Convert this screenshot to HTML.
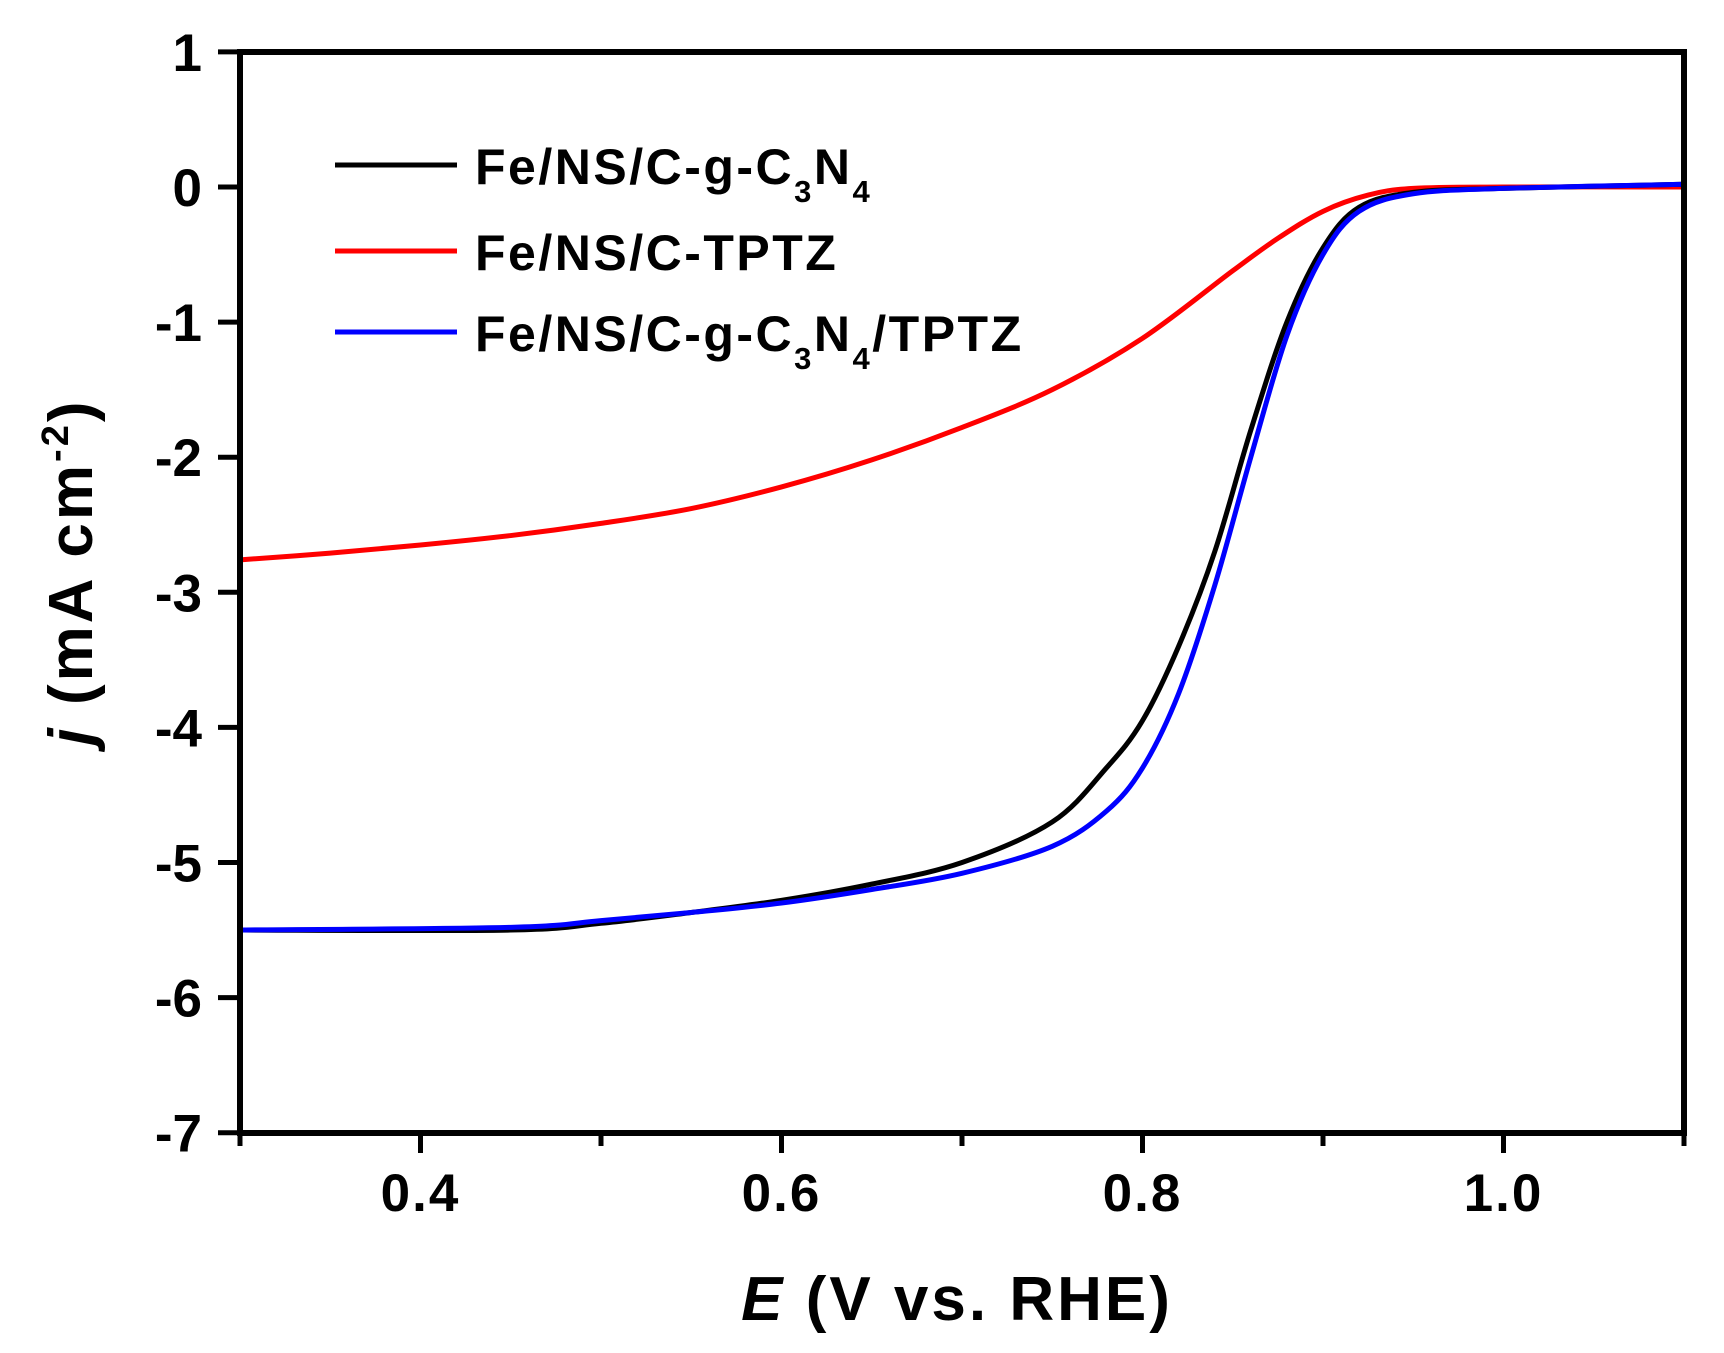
<!DOCTYPE html>
<html><head><meta charset="utf-8"><style>
html,body{margin:0;padding:0;background:#fff;}
svg{display:block;}
text{font-family:"Liberation Sans",Arial,sans-serif;font-weight:bold;fill:#000;}
</style></head><body>
<svg id="s" width="1724" height="1353" viewBox="0 0 1724 1353" xmlns="http://www.w3.org/2000/svg">
<g id="curves" fill="none" stroke-width="5" stroke-linejoin="round" stroke-linecap="round"></g>
<rect x="240" y="52" width="1444" height="1081" fill="none" stroke="#000" stroke-width="6"/>
<g id="ticks" stroke="#000" stroke-width="5"></g>
<g id="labels" font-size="53"></g>
<line x1="335" y1="165" x2="457" y2="165" stroke="#000" stroke-width="5"/>
<line x1="335" y1="251" x2="457" y2="251" stroke="#ff0000" stroke-width="5"/>
<line x1="335" y1="332" x2="457" y2="332" stroke="#0000ff" stroke-width="5"/>
<g font-size="50" letter-spacing="2.5">
<text x="475" y="184">Fe/NS/C-g-C<tspan font-size="31" dy="18">3</tspan><tspan dy="-18">N</tspan><tspan font-size="31" dy="18">4</tspan></text>
<text x="475" y="270">Fe/NS/C-TPTZ</text>
<text x="475" y="351">Fe/NS/C-g-C<tspan font-size="31" dy="18">3</tspan><tspan dy="-18">N</tspan><tspan font-size="31" dy="18">4</tspan><tspan dy="-18">/TPTZ</tspan></text>
</g>
<text x="957" y="1320" font-size="62" letter-spacing="3" text-anchor="middle"><tspan font-style="italic">E</tspan>  (V vs. RHE)</text>
<text transform="translate(92,572) rotate(-90)" font-size="62" letter-spacing="3" text-anchor="middle"><tspan font-style="italic">j</tspan> (mA cm<tspan font-size="38" dy="-24">-2</tspan><tspan dy="24">)</tspan></text>
</svg>
<script>
const X=v=>240+(v-0.3)*1805, Y=v=>187-v*135.1;
const NS="http://www.w3.org/2000/svg";
function el(p,t,a,txt){const e=document.createElementNS(NS,t);for(const k in a)e.setAttribute(k,a[k]);if(txt!=null)e.textContent=txt;p.appendChild(e);return e;}
const tk=document.getElementById('ticks'),lb=document.getElementById('labels');
for(let i=-7;i<=1;i++){const y=Y(i);el(tk,'line',{x1:218,y1:y,x2:240,y2:y});el(lb,'text',{x:202,y:y+19,'text-anchor':'end'},String(i));}
for(let k=0;k<=8;k++){const v=0.3+k*0.1,x=X(v);const major=(k%2==1);el(tk,'line',{x1:x,y1:1133,x2:x,y2:major?1153:1146});
if(major)el(lb,'text',{x:x,y:1211,'text-anchor':'middle','letter-spacing':'2'},v.toFixed(1));}
const data={
"#ff0000":[[0.3,-2.76],[0.35,-2.71],[0.4,-2.65],[0.45,-2.58],[0.5,-2.49],[0.55,-2.38],[0.6,-2.22],[0.65,-2.02],[0.7,-1.78],[0.75,-1.5],[0.8,-1.12],[0.85,-0.62],[0.875,-0.38],[0.9,-0.18],[0.925,-0.06],[0.95,-0.01],[1.0,0],[1.1,0]],
"#000000":[[0.3,-5.5],[0.45,-5.5],[0.5,-5.45],[0.55,-5.37],[0.6,-5.28],[0.65,-5.16],[0.7,-5.0],[0.75,-4.7],[0.78,-4.3],[0.8,-3.95],[0.82,-3.4],[0.84,-2.7],[0.86,-1.8],[0.88,-1.0],[0.9,-0.45],[0.92,-0.15],[0.95,-0.04],[1.0,-0.01],[1.1,0.02]],
"#0000ff":[[0.3,-5.5],[0.45,-5.48],[0.5,-5.43],[0.55,-5.37],[0.6,-5.3],[0.65,-5.2],[0.7,-5.08],[0.75,-4.88],[0.78,-4.62],[0.8,-4.3],[0.82,-3.75],[0.84,-2.95],[0.86,-2.0],[0.88,-1.1],[0.9,-0.5],[0.92,-0.18],[0.95,-0.05],[1.0,-0.01],[1.1,0.02]]};
const g=document.getElementById('curves');
for(const c of ["#ff0000","#000000","#0000ff"]){const p=data[c].map(q=>[X(q[0]),Y(q[1])]);
let d="M"+p[0][0]+","+p[0][1];
for(let i=0;i<p.length-1;i++){const p0=p[Math.max(0,i-1)],p1=p[i],p2=p[i+1],p3=p[Math.min(p.length-1,i+2)];
d+=" C"+(p1[0]+(p2[0]-p0[0])/6)+","+(p1[1]+(p2[1]-p0[1])/6)+" "+(p2[0]-(p3[0]-p1[0])/6)+","+(p2[1]-(p3[1]-p1[1])/6)+" "+p2[0]+","+p2[1];}
el(g,'path',{d:d,stroke:c});}
</script>
</body></html>
